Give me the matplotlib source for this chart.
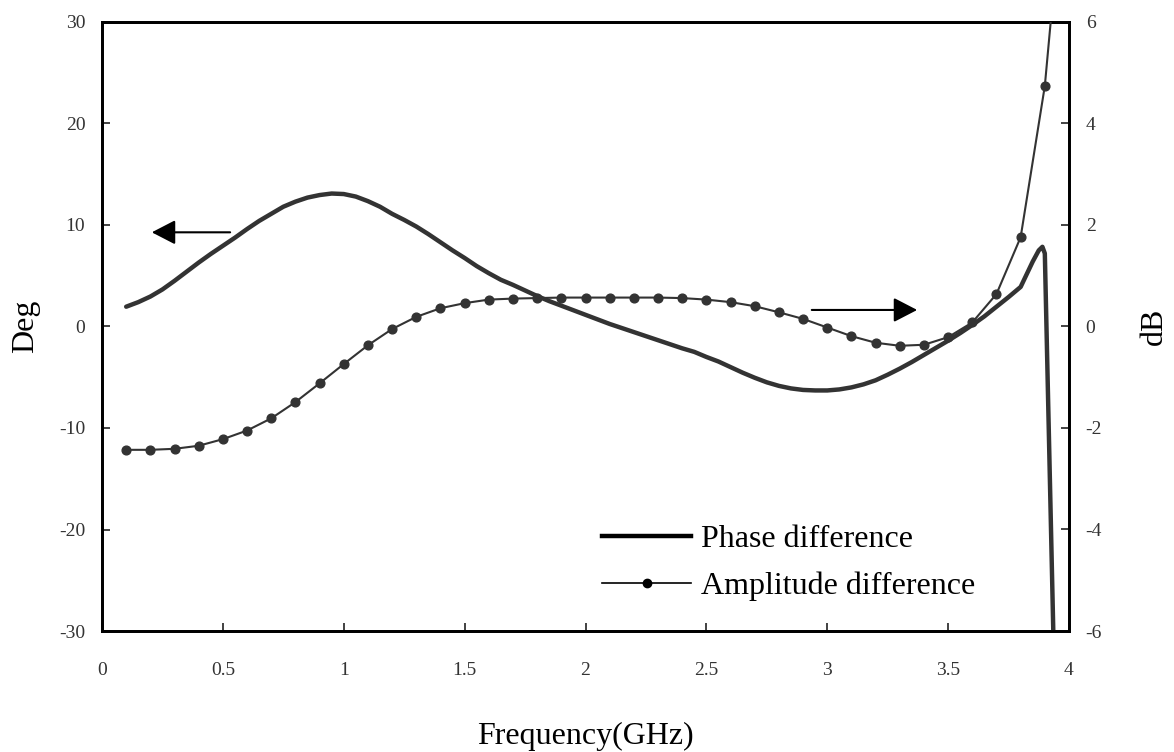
import matplotlib
matplotlib.use("Agg")
import matplotlib.pyplot as plt
from matplotlib.lines import Line2D

# Amplitude difference (dB), one sample every 0.1 GHz
amp_freq = [0.1, 0.2, 0.3, 0.4, 0.5, 0.6, 0.7, 0.8, 0.9, 1.0,
            1.1, 1.2, 1.3, 1.4, 1.5, 1.6, 1.7, 1.8, 1.9, 2.0,
            2.1, 2.2, 2.3, 2.4, 2.5, 2.6, 2.7, 2.8, 2.9, 3.0,
            3.1, 3.2, 3.3, 3.4, 3.5, 3.6, 3.7, 3.8, 3.9]
amp_db = [-2.43, -2.43, -2.41, -2.35, -2.22, -2.05, -1.81, -1.49, -1.12, -0.74,
          -0.37, -0.05, 0.19, 0.36, 0.46, 0.53, 0.55, 0.56, 0.57, 0.57,
          0.57, 0.57, 0.57, 0.56, 0.53, 0.48, 0.40, 0.28, 0.15, -0.02,
          -0.19, -0.32, -0.38, -0.36, -0.21, 0.08, 0.64, 1.76, 4.74]
# tail of the amplitude trace beyond the last marker
amp_tail_freq = [3.9, 3.93]
amp_tail_db = [4.74, 6.3]

# Phase difference (degrees)
phase_freq = [0.10, 0.15, 0.20, 0.25, 0.30, 0.35, 0.40, 0.45, 0.50, 0.55,
              0.60, 0.65, 0.70, 0.75, 0.80, 0.85, 0.90, 0.95, 1.00, 1.05,
              1.10, 1.15, 1.20, 1.25, 1.30, 1.35, 1.40, 1.45, 1.50, 1.55,
              1.60, 1.65, 1.70, 1.75, 1.80, 1.85, 1.90, 1.95, 2.00, 2.05,
              2.10, 2.15, 2.20, 2.25, 2.30, 2.35, 2.40, 2.45, 2.50, 2.55,
              2.60, 2.65, 2.70, 2.75, 2.80, 2.85, 2.90, 2.95, 3.00, 3.05,
              3.10, 3.15, 3.20, 3.25, 3.30, 3.35, 3.40, 3.45, 3.50, 3.55,
              3.60, 3.65, 3.70, 3.75, 3.80, 3.85, 3.875, 3.89, 3.90, 3.935,
              3.94]
phase_deg = [1.95, 2.4, 2.95, 3.65, 4.5, 5.4, 6.3, 7.15, 7.95, 8.75,
             9.6, 10.4, 11.1, 11.8, 12.3, 12.7, 12.95, 13.1, 13.05, 12.8,
             12.35, 11.8, 11.1, 10.5, 9.85, 9.1, 8.3, 7.5, 6.75, 5.95,
             5.25, 4.6, 4.1, 3.55, 3.0, 2.5, 2.05, 1.6, 1.15, 0.7,
             0.25, -0.15, -0.55, -0.95, -1.35, -1.75, -2.15, -2.5, -3.0, -3.45,
             -4.0, -4.55, -5.05, -5.5, -5.85, -6.1, -6.25, -6.3, -6.3, -6.2,
             -6.0, -5.7, -5.3, -4.75, -4.15, -3.5, -2.8, -2.1, -1.4, -0.65,
             0.15, 1.0, 1.95, 2.9, 3.9, 6.4, 7.5, 7.85, 7.2, -30.0,
             -34.0]

x_ticks = [0, 0.5, 1, 1.5, 2, 2.5, 3, 3.5, 4]
x_tick_labels = ["0", "0.5", "1", "1.5", "2", "2.5", "3", "3.5", "4"]
deg_ticks = [-30, -20, -10, 0, 10, 20, 30]
db_ticks = [-6, -4, -2, 0, 2, 4, 6]

INK = "#333333"
SERIF = ["Liberation Serif", "DejaVu Serif"]
plt.rcParams["font.family"] = SERIF
plt.rcParams["axes.unicode_minus"] = False

fig = plt.figure(figsize=(11.74, 7.52), dpi=100)
ax = fig.add_axes([102 / 1174, 1 - 631 / 752, (1069 - 102) / 1174, (631 - 22) / 752])
ax2 = ax.twinx()

ax.set_xlim(0, 4)
ax.set_ylim(-30, 30)
ax2.set_ylim(-6, 6)

phase_line, = ax.plot(phase_freq, phase_deg, color=INK, lw=3.2,
                      solid_joinstyle="round", solid_capstyle="round", zorder=3)
ax2.plot(amp_tail_freq, amp_tail_db, color=INK, lw=1.5, zorder=3)
amp_line, = ax2.plot(amp_freq, amp_db, color=INK, lw=1.5, marker="o",
                     markersize=6.3, markerfacecolor=INK, markeredgecolor=INK, zorder=3)

ax.set_xticks(x_ticks)
ax.set_xticklabels(x_tick_labels)
ax.set_yticks(deg_ticks)
ax2.set_yticks(db_ticks)

for a in (ax, ax2):
    for s in a.spines.values():
        s.set_linewidth(2.0)
        s.set_color("black")
ax.tick_params(axis="both", direction="in", length=6, width=1.2, labelsize=14,
               colors="#222222", labelcolor="#333333")
ax.tick_params(axis="x", pad=22)
ax.tick_params(axis="y", pad=12)
ax2.tick_params(axis="y", direction="in", length=6, width=1.2, labelsize=14,
                pad=12, colors="#222222", labelcolor="#333333")

ax.set_xlabel("Frequency(GHz)", fontsize=23, labelpad=31)
ax.set_ylabel("Deg", fontsize=23, labelpad=14)
ax2.set_ylabel("dB", fontsize=23, labelpad=27)

# direction arrows pointing to each trace's axis
ax.annotate("", xy=(0.206, 9.28), xytext=(0.53, 9.28),
            arrowprops=dict(arrowstyle="-|>,head_length=1.45,head_width=0.75",
                            color="black", lw=1.5, mutation_scale=10,
                            shrinkA=0, shrinkB=0))
ax.annotate("", xy=(3.372, 1.63), xytext=(2.936, 1.63),
            arrowprops=dict(arrowstyle="-|>,head_length=1.45,head_width=0.75",
                            color="black", lw=1.5, mutation_scale=10,
                            shrinkA=0, shrinkB=0))

handles = [Line2D([], [], color="black", lw=3.2),
           Line2D([], [], color="black", lw=1.2, marker="o", markersize=6,
                  markerfacecolor="black")]
leg = ax2.legend(handles, ["Phase difference", "Amplitude difference"],
                 loc="upper left", bbox_to_anchor=(602 / 1174, 1 - 525 / 752),
                 bbox_transform=fig.transFigure, frameon=False, fontsize=23,
                 handlelength=2.8, handletextpad=0.3, labelspacing=0.55,
                 borderpad=0, borderaxespad=0, numpoints=1)

fig.savefig("out.png", dpi=100)
